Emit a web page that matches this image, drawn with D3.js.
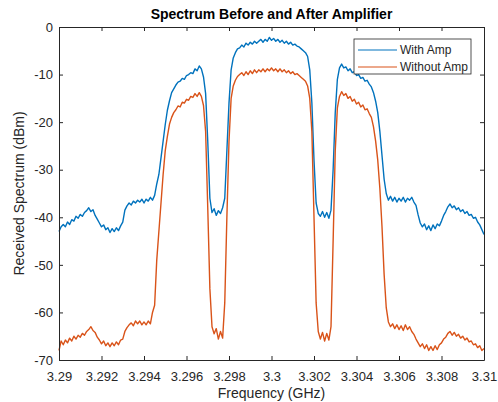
<!DOCTYPE html>
<html>
<head>
<meta charset="utf-8">
<script src="https://cdn.jsdelivr.net/npm/d3@7"></script>
<style>
  body { margin: 0; background: #fff; }
  text { font-family: "Liberation Sans", Arial, sans-serif; }
</style>
</head>
<body>
<div id="chart"></div>
<script>
// frequency grid (GHz), 0.0001 spacing from 3.29 to 3.31
var fStart = 3.29, fStep = 0.0001;

// With Amp (dBm), one value per grid point
var withAmp = [
  -43.0, -42.0, -41.5, -42.0, -41.0, -41.5, -40.5, -40.8, -39.8, -40.2,
  -39.4, -39.8, -39.0, -38.6, -38.0, -38.8, -38.4, -39.6, -40.4, -41.2,
  -42.0, -41.6, -42.6, -42.2, -43.2, -42.4, -43.0, -42.2, -42.8, -41.8,
  -41.0, -38.5, -37.6, -37.0, -37.4, -36.6, -37.0, -36.4, -36.8, -36.2,
  -37.0, -36.2, -36.6, -35.8, -36.4, -35.4, -33.0, -31.0, -27.5, -24.0,
  -20.5, -17.5, -15.5, -13.8, -13.0, -12.2, -11.6, -11.4, -10.8, -11.0,
  -10.2, -10.0, -9.6, -9.8, -8.8, -9.2, -8.2, -8.8, -10.5, -14.0,
  -24.0, -36.0, -39.0, -38.2, -39.6, -38.6, -39.2, -38.0, -36.0, -26.0,
  -16.0, -9.0, -6.5, -5.4, -4.6, -4.4, -3.8, -4.2, -3.4, -3.8,
  -3.2, -3.6, -3.0, -3.4, -3.0, -2.6, -3.2, -2.6, -3.0, -2.2,
  -2.8, -2.4, -3.0, -2.6, -3.2, -2.8, -3.4, -3.0, -3.6, -3.2,
  -3.8, -3.6, -4.0, -4.2, -4.6, -5.0, -5.4, -6.2, -9.0, -16.0,
  -28.0, -37.0, -39.2, -39.8, -38.8, -40.0, -39.0, -40.2, -38.5, -30.0,
  -18.0, -11.0, -8.6, -7.8, -8.6, -8.4, -9.2, -8.8, -9.6, -9.4,
  -10.2, -10.0, -10.8, -10.6, -11.4, -11.2, -12.0, -12.6, -13.8, -15.6,
  -18.0, -22.0, -27.0, -32.0, -35.0, -36.4, -35.6, -36.6, -35.8, -36.8,
  -36.0, -36.6, -35.8, -36.8, -36.0, -36.4, -35.8, -36.8, -37.5, -39.5,
  -41.2, -42.0, -41.4, -42.6, -41.8, -42.8, -41.6, -42.4, -41.4, -41.8,
  -40.8, -39.6, -38.8, -37.8, -37.2, -38.0, -37.6, -38.4, -38.0, -38.8,
  -38.4, -39.2, -38.8, -39.6, -39.4, -40.2, -40.0, -41.0, -41.6, -42.6,
  -43.6
];

// Without Amp (dBm)
var withoutAmp = [
  -68.0, -66.0, -66.8, -65.8, -66.4, -65.4, -66.0, -65.0, -65.6, -64.8,
  -65.2, -64.4, -64.8, -64.0, -63.6, -63.0, -63.8, -64.2, -65.2, -65.8,
  -66.6, -66.0, -67.0, -66.4, -67.2, -66.4, -67.0, -66.2, -66.8, -65.8,
  -65.6, -64.0, -63.2, -62.6, -62.2, -62.8, -61.8, -62.4, -61.8, -62.6,
  -62.0, -62.6, -61.8, -62.4, -60.0, -58.5, -49.0, -43.0, -37.0, -31.0,
  -26.0, -23.0, -20.4, -19.0, -18.0, -17.4, -16.6, -16.8, -15.8, -16.0,
  -15.2, -15.4, -14.6, -14.8, -14.0, -14.6, -13.8, -14.6, -16.5, -22.0,
  -38.0, -55.0, -63.0, -64.5, -63.4, -65.6, -64.0, -65.4, -58.0, -40.0,
  -24.0, -15.0, -12.4, -11.2, -10.4, -10.0, -9.6, -10.2, -9.4, -10.0,
  -9.2, -9.8, -9.0, -9.6, -9.0, -9.4, -8.8, -9.4, -8.8, -9.2,
  -8.6, -9.2, -8.8, -9.4, -8.8, -9.4, -9.0, -9.6, -9.2, -9.8,
  -9.4, -10.0, -9.8, -10.2, -10.6, -11.0, -11.4, -12.4, -15.0, -22.0,
  -40.0, -58.0, -64.0, -65.6, -64.2, -66.0, -64.4, -65.8, -63.0, -45.0,
  -26.0, -17.0, -14.6, -13.6, -14.4, -14.0, -15.0, -14.6, -15.6, -15.2,
  -16.2, -15.8, -16.8, -16.4, -17.4, -17.2, -18.2, -19.0, -21.0, -24.0,
  -28.0, -34.0, -42.0, -52.0, -59.0, -62.0, -63.0, -62.4, -63.4, -62.6,
  -63.6, -62.8, -63.8, -62.6, -63.6, -63.0, -64.0, -64.6, -65.6, -66.4,
  -67.2, -66.6, -67.6, -66.8, -68.0, -67.2, -68.0, -67.0, -67.8, -66.8,
  -66.4, -65.6, -65.2, -64.4, -64.0, -64.8, -64.2, -65.0, -64.6, -65.4,
  -65.0, -65.8, -65.4, -66.2, -66.0, -66.8, -66.6, -67.4, -67.0, -68.0,
  -67.6
];

var xTicks = [3.29, 3.292, 3.294, 3.296, 3.298, 3.3, 3.302, 3.304, 3.306, 3.308, 3.31];
var yTicks = [0, -10, -20, -30, -40, -50, -60, -70];
var seriesNames = ["With Amp", "Without Amp"];
var seriesColors = ["#0072BD", "#D95319"];

var W = 498, H = 402;
var mLeft = 59, mRight = 484, mTop = 27, mBottom = 360;

var svg = d3.select("#chart").append("svg")
    .attr("width", W)
    .attr("height", H);

var x = d3.scaleLinear().domain([3.29, 3.31]).range([mLeft, mRight]);
var y = d3.scaleLinear().domain([-70, 0]).range([mBottom, mTop]);

// plain hyphen minus, like MATLAB
var fmt = d => String(+d.toFixed(3));

// curves
var line = d3.line()
    .x(d => x(d[0]))
    .y(d => y(d[1]));

[withAmp, withoutAmp].forEach(function(vals, k) {
  var pts = vals.map((v, i) => [fStart + i * fStep, v]);
  svg.append("path")
    .datum(pts)
    .attr("d", line)
    .attr("fill", "none")
    .attr("stroke", seriesColors[k])
    .attr("stroke-width", 1.4)
    .attr("stroke-linejoin", "round");
});

// axes (ticks point inward)
var axisColor = "#262626";
var xAxis = svg.append("g")
    .attr("transform", `translate(0,${mBottom})`)
    .call(d3.axisBottom(x).tickValues(xTicks).tickFormat(fmt).tickSizeInner(-4).tickSizeOuter(0).tickPadding(12));
var xTop = svg.append("g")
    .attr("transform", `translate(0,${mTop})`)
    .call(d3.axisTop(x).tickValues(xTicks).tickFormat("").tickSizeInner(-4).tickSizeOuter(0));
var yAxis = svg.append("g")
    .attr("transform", `translate(${mLeft},0)`)
    .call(d3.axisLeft(y).tickValues(yTicks).tickFormat(fmt).tickSizeInner(-4).tickSizeOuter(0).tickPadding(6));
var yRight = svg.append("g")
    .attr("transform", `translate(${mRight},0)`)
    .call(d3.axisRight(y).tickValues(yTicks).tickFormat("").tickSizeInner(-4).tickSizeOuter(0));

[xAxis, xTop, yAxis, yRight].forEach(function(g) {
  g.selectAll(".domain").attr("stroke", axisColor);
  g.selectAll(".tick line").attr("stroke", axisColor);
  g.selectAll(".tick text")
    .attr("fill", axisColor)
    .style("font-size", "13px")
    .style("font-family", "'Liberation Sans', Arial, sans-serif");
});

// title and axis labels
svg.append("text")
    .attr("x", (mLeft + mRight) / 2)
    .attr("y", 19)
    .style("text-anchor", "middle")
    .style("font-size", "14px")
    .style("font-weight", "bold")
    .attr("fill", "#000")
    .text("Spectrum Before and After Amplifier");

svg.append("text")
    .attr("x", (mLeft + mRight) / 2)
    .attr("y", 398)
    .style("text-anchor", "middle")
    .style("font-size", "14px")
    .attr("fill", axisColor)
    .text("Frequency (GHz)");

svg.append("text")
    .attr("transform", "rotate(-90)")
    .attr("x", -(mTop + mBottom) / 2)
    .attr("y", 24)
    .style("text-anchor", "middle")
    .style("font-size", "14px")
    .attr("fill", axisColor)
    .text("Received Spectrum (dBm)");

// legend
var lg = svg.append("g").attr("transform", "translate(354,39)");
lg.append("rect")
    .attr("width", 117)
    .attr("height", 35)
    .attr("fill", "#fff")
    .attr("stroke", axisColor)
    .attr("stroke-width", 0.8);
seriesNames.forEach(function(name, i) {
  var ry = 11 + i * 17;
  lg.append("line")
    .attr("x1", 4).attr("x2", 43)
    .attr("y1", ry).attr("y2", ry)
    .attr("stroke", seriesColors[i])
    .attr("stroke-width", 1.2);
  lg.append("text")
    .attr("x", 46)
    .attr("y", ry)
    .attr("dy", "0.35em")
    .style("font-size", "12px")
    .attr("fill", axisColor)
    .text(name);
});
</script>
</body>
</html>
